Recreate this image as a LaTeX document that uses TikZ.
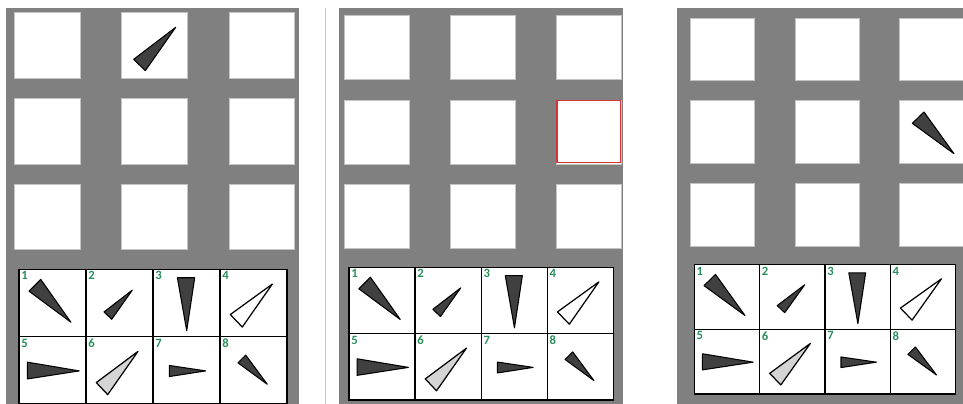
\documentclass[tikz,border=0pt]{standalone}
\usepackage{fontspec}
\setsansfont{Carlito}
\usetikzlibrary{positioning}
\definecolor{panelgray}{HTML}{808080}
\definecolor{tileedge}{HTML}{C4C4C4}
\definecolor{shapedark}{HTML}{404040}
\definecolor{shapelight}{HTML}{D4D4D4}
\definecolor{numgreen}{HTML}{2A8F5C}
\definecolor{markred}{HTML}{D03434}
\definecolor{sepgray}{HTML}{C8C8C8}
\tikzset{
  board/.style={fill=panelgray},
  tile/.style={fill=white, draw=tileedge, line width=0.4pt},
  marked/.style={draw=markred, line width=0.7pt},
  sheet/.style={draw=black, fill=white, line width=0.7pt},
  darktri/.style={fill=shapedark, draw=black, line width=0.6pt, line join=round},
  lighttri/.style={fill=shapelight, draw=black, line width=0.7pt, line join=round},
  opentri/.style={fill=white, draw=black, line width=0.7pt, line join=round},
  numlabel/.style={font=\sffamily\bfseries\fontsize{7.2}{7.2}\selectfont, text=numgreen,
    anchor=north west, inner sep=0pt}
}

\begin{document}
\begin{tikzpicture}[x=0.02cm, y=-0.02cm]
  \useasboundingbox (0,0) rectangle (963,403);
  \clip (0,0) rectangle (963,403);

  % three boards and the separator
  \fill[board] (6,8) rectangle (299,410);
  \fill[board] (339,8) rectangle (623.3,410);
  \fill[board] (677.3,8) rectangle (970,410);
  \draw[sepgray, line width=0.8pt] (325.7,8) -- (325.7,410);

  % 3x3 tiles: board / column starts / row starts / size
  \foreach \ca/\cb/\cc/\ra/\rb/\rc/\w/\h in {
      14.7/121.7/229/12.7/98.7/184.3/65.6/65.5,
      344.7/450/556.3/15/100/184.3/65/64.5,
      690.7/795/899.3/18/100.7/183.3/64/62.7}{
    \foreach \x in {\ca,\cb,\cc}
      \foreach \y in {\ra,\rb,\rc}
        \draw[tile] (\x,\y) rectangle ++(\w,\h);
  }

  % shapes already placed in the matrices
  \draw[darktri] (133.7,59.3) -- (145.3,70.7) -- (175.7,27.3) -- cycle;
  \draw[darktri] (912.3,123.3) -- (924,112) -- (954,153.7) -- cycle;
  \draw[marked] (557,100.7) rectangle (620.3,162.7);

  % answer sheets
  \foreach \ox/\oy/\cw/\ch/\p in {19/269.3/67/67.4/1, 349/267.3/66.1/66.4/2,
      694.3/264.7/65.35/64.65/3}{
    \begin{scope}[shift={(\ox,\oy)}, xscale=\cw/67, yscale=\ch/67]
      \draw[sheet] (0,0) rectangle (268,134);
      \draw[line width=0.7pt] (0,67) -- (268,67);
      \foreach \k in {67,134,201}
        \draw[line width=0.7pt] (\k,0) -- (\k,134);
      \foreach \n/\c/\r/\sty/\ax/\ay/\bx/\by/\dx/\dy in {
          1/0/0/darktri/10/21.7/21.7/10/52/52.7,
          2/1/0/darktri/18/42.4/25.7/49.7/46.3/20.7,
          3/2/0/darktri/24.4/8.4/41.7/8.4/33.7/61,
          4/3/0/opentri/10.3/45/22.3/57.4/52.3/14.7,
          5/0/1/darktri/8.3/25.3/8.3/42/60.3/34,
          6/1/1/lighttri/10.3/45.6/21.7/57.6/52/14.6,
          7/2/1/darktri/16.4/28.6/16.4/39.6/52.7/34,
          8/3/1/darktri/18/26/25.7/18.3/47.3/47.3}{
        \draw[\sty] ({\c*67+\ax},{\r*67+\ay}) -- ({\c*67+\bx},{\r*67+\by})
          -- ({\c*67+\dx},{\r*67+\dy}) -- cycle;
        \node[numlabel] (num\p\n) at ({\c*67+2},{\r*67+2}) {\n};
      }
    \end{scope}
  }
\end{tikzpicture}
\end{document}
